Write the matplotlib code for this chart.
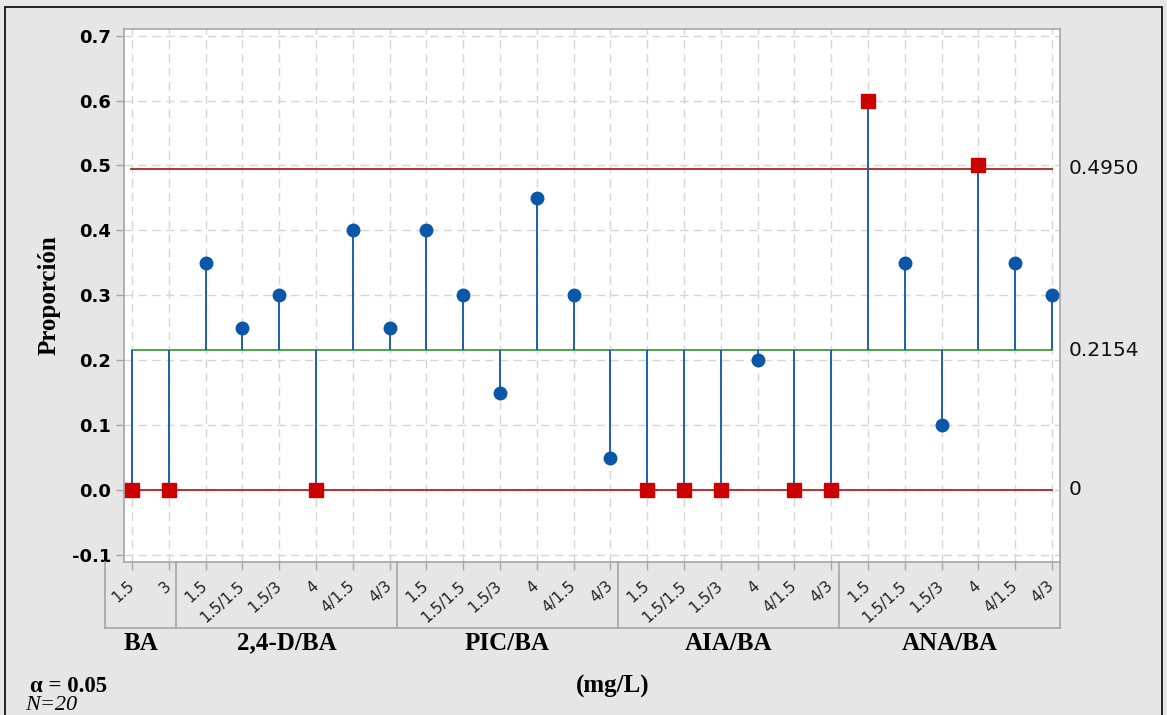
import numpy as np
import matplotlib; matplotlib.use("Agg")
import matplotlib.pyplot as plt
import matplotlib.transforms as mtransforms
from matplotlib.lines import Line2D
from matplotlib.patches import Rectangle

# --- data ---
groups = ["BA", "2,4-D/BA", "PIC/BA", "AIA/BA", "ANA/BA"]
levels_ba = ["1.5", "3"]
levels_mix = ["1.5", "1.5/1.5", "1.5/3", "4", "4/1.5", "4/3"]
prop_ba = [0.0, 0.0]
prop_24d = [0.35, 0.25, 0.30, 0.0, 0.40, 0.25]
prop_pic = [0.40, 0.30, 0.15, 0.45, 0.30, 0.05]
prop_aia = [0.0, 0.0, 0.0, 0.20, 0.0, 0.0]
prop_ana = [0.60, 0.35, 0.10, 0.50, 0.35, 0.30]
center = 0.2154
udl = 0.4950
ldl = 0.0

group_levels = [levels_ba, levels_mix, levels_mix, levels_mix, levels_mix]
props = np.array(prop_ba + prop_24d + prop_pic + prop_aia + prop_ana)
labels = sum(group_levels, [])
x = np.arange(len(props))

W, H = 1167, 715
BG = "#e6e6e6"; GRAY = "#a6a6a6"
BLUE = "#1f5fae"; DOT = "#0a56a8"; RED = "#cc0000"; LRED = "#b22222"; GREEN = "#3ca03c"

fig = plt.figure(figsize=(W/100, H/100), dpi=100, facecolor=BG)
ax = fig.add_axes([124/W, 1-562/H, (1060-124)/W, (562-29)/H])
ax.set_facecolor("white")
for s in ax.spines.values(): s.set_color(GRAY); s.set_linewidth(1.2)

ax.set_xlim(-0.22, len(props)-1+0.22)
ax.set_ylim(-0.111, 0.7103)
yt = np.arange(-0.1, 0.71, 0.1)
ax.set_yticks(yt)
ax.set_yticklabels([f"{v:.1f}" for v in yt], fontsize=13, fontweight="bold", family="DejaVu Sans")
ax.set_xticks(x); ax.set_xticklabels([])
ax.tick_params(axis="y", color=GRAY, length=6, width=1, pad=3)
ax.tick_params(axis="x", color=GRAY, length=6, width=1, direction="out")
ax.grid(True, color="#d6d6d6", linestyle=(0, (6, 4)), linewidth=1)
ax.set_axisbelow(True)

# limit lines
ax.plot([x[0]-0.03, x[-1]], [udl, udl], color=LRED, lw=1.3, zorder=2)
ax.plot([x[0]-0.03, x[-1]], [ldl, ldl], color=LRED, lw=1.3, zorder=2)
ax.plot([x[0], x[-1]], [center, center], color=GREEN, lw=1.3, zorder=2)

ax.vlines(x, center, props, color=BLUE, lw=1.4, zorder=3)
out = (props >= udl) | (props <= ldl)
ax.plot(x[~out], props[~out], "o", color=DOT, ms=9, zorder=4)
ax.plot(x[out], props[out], "s", color=RED, ms=9.5, zorder=4)

for v, t in [(udl, "0.4950"), (center, "0.2154"), (ldl, "0")]:
    ax.annotate(t, (1.0, v), xycoords=ax.get_yaxis_transform(), xytext=(6, 0),
                textcoords="offset points", va="center", ha="left",
                fontsize=14.5, family="DejaVu Sans", color="#111111")

ax.set_ylabel("Proporción", fontsize=18, fontweight="bold", family="Liberation Serif", labelpad=8)

# x-axis table
tr = mtransforms.blended_transform_factory(ax.transData, fig.transFigure)
top, bot = 1-562/H, 1-628/H
left_x = -0.73
fig.add_artist(Line2D([left_x, x[-1]+0.22], [bot, bot], transform=tr, color=GRAY, lw=1.2))
fig.add_artist(Line2D([left_x, left_x], [top, bot], transform=tr, color=GRAY, lw=1.2))
start = 0
seps = [left_x]
for g, lv in zip(groups, group_levels):
    end = start + len(lv) - 1
    sep = end + 0.2 if end < len(props)-1 else x[-1] + 0.22
    fig.add_artist(Line2D([sep, sep], [top, bot], transform=tr, color=GRAY, lw=1.2))
    seps.append(sep)
    start = end + 1
for i, g in enumerate(groups):
    fig.text((seps[i]+seps[i+1])/2, 1-643/H, g, transform=tr, ha="center", va="center",
             fontsize=18, fontweight="bold", family="Liberation Serif")
for xi, lab in zip(x, labels):
    fig.text(xi, 1-584/H, lab, transform=tr, rotation=42, rotation_mode="anchor",
             ha="right", va="center", fontsize=11, family="DejaVu Sans", color="#222222")

fig.text(613/W, 1-686/H, "(mg/L)", ha="center", va="center", fontsize=18,
         fontweight="bold", family="Liberation Serif")
fig.text(30/W, 1-686/H, "α = 0.05", ha="left", va="center", fontsize=16.5,
         fontweight="bold", family="Liberation Serif")
fig.text(25/W, 1-706/H, "N=20", ha="left", va="center", fontsize=16,
         style="italic", family="Liberation Serif")

fig.add_artist(Rectangle((5/W, -0.05), (1162-5)/W, 1-7/H+0.05, transform=fig.transFigure,
                         fill=False, edgecolor="black", lw=1.2))

fig.savefig("out.png", dpi=100, facecolor=BG)
